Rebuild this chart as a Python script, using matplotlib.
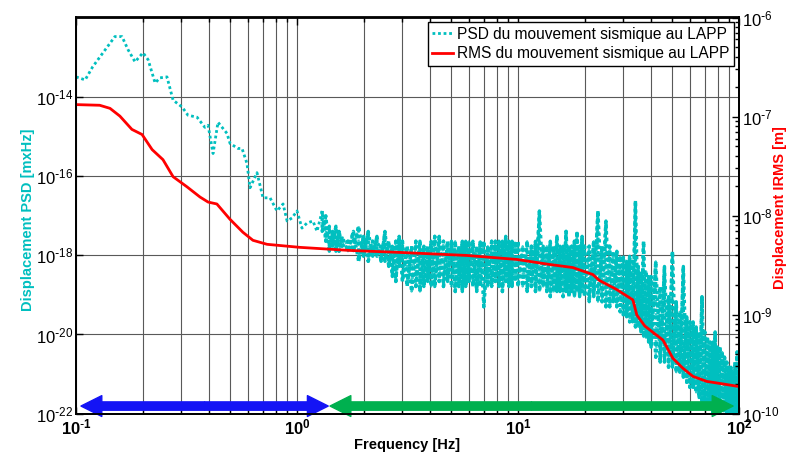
import numpy as np
import matplotlib
matplotlib.use("Agg")
from matplotlib import pyplot as plt
from matplotlib.patches import FancyArrowPatch
from matplotlib.ticker import LogLocator, NullLocator, FuncFormatter

plt.rcParams['font.family'] = ['Liberation Sans', 'DejaVu Sans']
plt.rcParams['mathtext.default'] = 'regular'

# PSD below ~1.3 Hz (smooth part)
psd_f_low = [0.100, 0.110, 0.119, 0.1325, 0.150, 0.1615, 0.172, 0.185, 0.201, 0.212,
             0.228, 0.240, 0.258, 0.275, 0.302, 0.321, 0.353, 0.383, 0.396, 0.417,
             0.439, 0.482, 0.498, 0.541, 0.564, 0.594, 0.613, 0.659, 0.702, 0.755,
             0.812, 0.865, 0.902, 0.949, 1.000, 1.053, 1.110, 1.181, 1.232, 1.30]
psd_low = [3.17e-14, 2.66e-14, 5.7e-14, 1.29e-13, 3.3e-13, 3.3e-13, 1.54e-13, 7.6e-14, 1.29e-13, 8.6e-14,
           2.23e-14, 3.0e-14, 3.17e-14, 8.2e-15, 5.5e-15, 3.42e-15, 3.04e-15, 1.69e-15, 1.9e-15, 3.69e-16,
           2.27e-15, 1.19e-15, 6.6e-16, 4.95e-16, 4.95e-16, 2.06e-16, 5.04e-17, 1.21e-16, 2.81e-17, 2.81e-17,
           1.31e-17, 1.97e-17, 7.3e-18, 8.7e-18, 1.31e-17, 4.84e-18, 6.5e-18, 7.3e-18, 4.0e-18, 1.31e-17]

# PSD above 1.3 Hz: noisy band, upper and lower excursions per frequency column
band_f = [1.3, 1.35, 1.4, 1.45, 1.5, 1.55, 1.6, 1.7, 1.8, 1.9,
          2.0, 2.1, 2.2, 2.3, 2.4, 2.5, 2.6, 2.7, 2.8, 2.9,
          3.0, 3.15, 3.3, 3.45, 3.6, 3.75, 3.9, 4.05, 4.2, 4.4,
          4.6, 4.8, 5.0, 5.2, 5.4, 5.6, 5.8, 6.0, 6.25, 6.5,
          6.75, 7.0, 7.3, 7.6, 7.9, 8.2, 8.5, 8.8, 9.1, 9.4,
          9.7, 10, 10.5, 11, 11.5, 12, 12.5, 13, 13.5, 14,
          14.5, 15, 15.5, 16, 16.5, 17, 17.5, 18, 18.5, 19,
          19.5, 20, 21, 22, 23, 24, 25, 26, 27, 28,
          29, 30, 31, 32, 33, 34, 35, 36, 37, 38,
          39, 40, 42, 44, 46, 48, 50, 52, 54, 56,
          58, 60, 62, 64, 66, 68, 70, 72, 74, 76,
          78, 80, 82, 84, 86, 88, 90, 92, 94, 96,
          98, 100]
band_hi = [1.31e-17, 9.8e-18, 5.4e-18, 4.0e-18, 5.4e-18, 4.0e-18, 3.0e-18, 2.26e-18, 4.0e-18, 5.4e-18,
           3.0e-18, 4.0e-18, 2.26e-18, 3.0e-18, 1.69e-18, 4.0e-18, 2.26e-18, 1.69e-18, 2.26e-18, 3.0e-18,
           2.26e-18, 1.69e-18, 1.69e-18, 2.26e-18, 2.26e-18, 1.69e-18, 1.69e-18, 2.26e-18, 3.0e-18, 3.0e-18,
           2.26e-18, 2.26e-18, 2.26e-18, 2.26e-18, 1.69e-18, 2.26e-18, 2.26e-18, 2.26e-18, 2.26e-18, 1.69e-18,
           2.26e-18, 2.26e-18, 1.69e-18, 2.26e-18, 2.26e-18, 2.26e-18, 2.26e-18, 3.0e-18, 2.26e-18, 2.26e-18,
           2.26e-18, 2.26e-18, 1.69e-18, 2.26e-18, 1.69e-18, 2.26e-18, 1.31e-17, 1.69e-18, 1.69e-18, 2.26e-18,
           1.69e-18, 3.0e-18, 1.69e-18, 1.69e-18, 4.0e-18, 1.69e-18, 1.69e-18, 2.26e-18, 4.0e-18, 1.69e-18,
           3.0e-18, 1.69e-18, 1.69e-18, 2.26e-18, 1.31e-17, 1.69e-18, 7.3e-18, 1.69e-18, 1.26e-18, 1.26e-18,
           9.4e-19, 9.4e-19, 7.0e-19, 9.4e-19, 7.0e-19, 2.35e-17, 5.2e-19, 3.9e-19, 2.26e-18, 3.9e-19,
           2.9e-19, 2.9e-19, 7.0e-19, 1.62e-19, 5.2e-19, 9.0e-20, 1.26e-18, 6.7e-20, 3.74e-20, 5.2e-19,
           2.79e-20, 2.08e-20, 2.08e-20, 1.55e-20, 1.16e-20, 9.0e-20, 1.16e-20, 8.6e-21, 6.4e-21, 6.4e-21,
           1.16e-20, 4.8e-21, 4.8e-21, 3.6e-21, 2.67e-21, 2.0e-21, 1.49e-21, 1.49e-21, 1.11e-21, 2.0e-21,
           3.6e-21, 2.0e-21]
band_lo = [4.0e-18, 2.26e-18, 1.26e-18, 1.69e-18, 1.26e-18, 1.26e-18, 1.69e-18, 1.26e-18, 1.26e-18, 7.0e-19,
           9.4e-19, 7.0e-19, 9.4e-19, 9.4e-19, 7.0e-19, 7.0e-19, 5.2e-19, 2.9e-19, 2.17e-19, 5.2e-19,
           2.17e-19, 1.62e-19, 1.21e-19, 1.62e-19, 1.21e-19, 1.62e-19, 2.17e-19, 1.62e-19, 1.62e-19, 2.17e-19,
           1.62e-19, 2.17e-19, 1.62e-19, 1.21e-19, 1.62e-19, 1.21e-19, 1.62e-19, 2.17e-19, 1.62e-19, 1.21e-19,
           1.62e-19, 5.0e-20, 1.62e-19, 1.62e-19, 2.17e-19, 1.62e-19, 1.21e-19, 2.17e-19, 1.62e-19, 1.62e-19,
           2.17e-19, 1.62e-19, 1.62e-19, 1.21e-19, 1.62e-19, 1.21e-19, 1.21e-19, 1.62e-19, 1.21e-19, 9.0e-20,
           1.21e-19, 1.21e-19, 1.21e-19, 9.0e-20, 1.21e-19, 9.0e-20, 1.21e-19, 9.0e-20, 1.21e-19, 9.0e-20,
           1.21e-19, 9.0e-20, 6.7e-20, 9.0e-20, 6.7e-20, 6.7e-20, 5.0e-20, 5.0e-20, 6.7e-20, 5.0e-20,
           3.74e-20, 2.79e-20, 2.79e-20, 2.08e-20, 2.08e-20, 1.55e-20, 1.55e-20, 1.16e-20, 8.6e-21, 8.6e-21,
           6.4e-21, 4.8e-21, 2.67e-21, 2.0e-21, 2.0e-21, 1.49e-21, 1.49e-21, 1.11e-21, 1.11e-21, 8.3e-22,
           6.2e-22, 4.6e-22, 4.6e-22, 3.44e-22, 2.56e-22, 1.91e-22, 1.91e-22, 1.43e-22, 1.43e-22, 1.07e-22,
           1.07e-22, 1.07e-22, 1.07e-22, 1.07e-22, 1.07e-22, 1.07e-22, 1.07e-22, 1.07e-22, 1.07e-22, 1.07e-22,
           1.07e-22, 1.07e-22]

# cumulative RMS (right axis)
rms_f = [0.100, 0.128, 0.1425, 0.158, 0.179, 0.199, 0.221, 0.2475, 0.275, 0.318,
         0.364, 0.396, 0.434, 0.497, 0.569, 0.632, 0.732, 1.03, 1.73, 2.91,
         5.86, 9.87, 13.9, 17.7, 21.8, 23.4, 28.0, 33.1, 34.5, 37.5,
         45.3, 50.2, 55.8, 61.9, 71.4, 87.9, 100]
rms = [1.32e-7, 1.30e-7, 1.21e-7, 1.01e-7, 7.42e-8, 6.59e-8, 4.64e-8, 3.67e-8, 2.47e-8, 1.95e-8,
       1.54e-8, 1.37e-8, 1.31e-8, 9.2e-9, 6.79e-9, 5.63e-9, 5.13e-9, 4.78e-9, 4.45e-9, 4.25e-9,
       3.96e-9, 3.61e-9, 3.21e-9, 2.99e-9, 2.54e-9, 2.21e-9, 1.79e-9, 1.41e-9, 9.9e-10, 7.67e-10,
       5.53e-10, 3.63e-10, 2.87e-10, 2.38e-10, 2.12e-10, 1.97e-10, 1.88e-10]

# frequency ranges marked by the arrows
blue_span = (0.1053, 1.385)
green_span = (1.41, 94.0)
arrow_level = 1.56e-22

cyan = '#00BFBF'
red = '#FF0000'
dots = (0, (1, 1))
dots_shift = (1, (1, 1))

fig = plt.figure(figsize=(7.92, 4.54), dpi=100)
ax = fig.add_axes([76 / 792, 1 - 413.7 / 454, (739 - 76) / 792, (413.7 - 17.5) / 454])
ax2 = ax.twinx()

ax.set_xscale('log')
ax.set_yscale('log')
ax2.set_yscale('log')

# PSD : smooth part then the noisy band drawn as zig-zags between the excursions
psd_line, = ax.plot(psd_f_low, psd_low, color=cyan, lw=2, ls=dots)
hi = np.array(band_hi)
lo = np.array(band_lo)
zig_f = np.repeat(band_f, 2)
zig_v = np.column_stack([hi, lo]).ravel()
ax.plot(zig_f, zig_v, color=cyan, lw=2.4, ls=dots)
ax.plot(zig_f, zig_v, color=cyan, lw=1.6, ls=dots_shift, alpha=0.8)
# same points again, opposite order, so neighbouring columns cross and fill in
even = np.arange(len(hi)) % 2 == 0
ax.plot(band_f, np.where(even, lo, hi), color=cyan, lw=2.4, ls=dots)
ax.plot(band_f, np.where(even, hi, lo), color=cyan, lw=2.4, ls=dots_shift)

rms_line, = ax2.plot(rms_f, rms, color=red, lw=2)

ax.set_xlim(0.1, 100)
ax.set_ylim(1e-22, 1e-12)
ax2.set_ylim(1e-10, 1e-6)

pow10 = FuncFormatter(lambda v, p: r'$10^{\text{-}%d}$' % -int(round(np.log10(v)))
                      if v < 1 else '$10^{%d}$' % int(round(np.log10(v))))

ax.set_xticks([0.1, 1, 10, 100])
ax.xaxis.set_minor_locator(LogLocator(base=10, subs=np.arange(2, 10)))
ax.xaxis.set_major_formatter(pow10)
ax.set_yticks([1e-22, 1e-20, 1e-18, 1e-16, 1e-14])
ax.yaxis.set_minor_locator(NullLocator())
ax.yaxis.set_major_formatter(pow10)
ax2.yaxis.set_major_locator(LogLocator(base=10))
ax2.yaxis.set_minor_locator(LogLocator(base=10, subs=np.arange(2, 10)))
ax2.yaxis.set_major_formatter(pow10)

ax.tick_params(axis='both', which='both', direction='in', top=True, labelsize=12, width=1)
ax.tick_params(axis='y', pad=2, length=5)
ax.tick_params(axis='x', pad=3, length=5)
ax.tick_params(axis='x', which='minor', length=3)
ax2.tick_params(axis='y', which='both', direction='in', labelsize=12, pad=2, width=1)
ax2.tick_params(axis='y', which='major', length=5)
ax2.tick_params(axis='y', which='minor', length=3)
for lbl in ax.get_xticklabels():
    lbl.set_fontweight('bold')

ax.set_axisbelow(True)
ax.grid(axis='x', which='both', color='0.35', lw=0.8)
ax.grid(axis='y', which='major', color='0.35', lw=0.8)
for a in (ax, ax2):
    for s in a.spines.values():
        s.set_linewidth(1.3)

ax.set_xlabel('Frequency [Hz]', fontsize=10.5, fontweight='bold')
ax.xaxis.set_label_coords(0.5, -0.062)
ax.set_ylabel('Displacement PSD [mxHz]', fontsize=10.5, fontweight='bold', color=cyan)
ax.yaxis.set_label_coords(-0.062, 0.49)
ax2.set_ylabel('Displacement IRMS [m]', fontsize=10.5, fontweight='bold', color=red)
ax2.yaxis.set_label_coords(1.052, 0.52)

# double-headed arrows, drawn as two arrows from the middle outward
for (x0, x1), col in ((blue_span, '#1414F5'), (green_span, '#00B04F')):
    xm = np.sqrt(x0 * x1)
    for xe in (x0, x1):
        ax.add_patch(FancyArrowPatch((xm, arrow_level), (xe, arrow_level),
                                     arrowstyle='simple,head_length=1.5,head_width=1.5,tail_width=0.6',
                                     mutation_scale=10, color=col, shrinkA=0, shrinkB=0,
                                     zorder=6, clip_on=False))

leg = ax2.legend([psd_line, rms_line],
                 ['PSD du mouvement sismique au LAPP', 'RMS du mouvement sismique au LAPP'],
                 loc='upper right', fontsize=11.2, fancybox=False, edgecolor='black', framealpha=1,
                 borderaxespad=0.3, handlelength=1.3, handletextpad=0.3, labelspacing=0.3,
                 borderpad=0.3)
leg.get_frame().set_linewidth(1.0)

fig.savefig('out.png', dpi=100)
